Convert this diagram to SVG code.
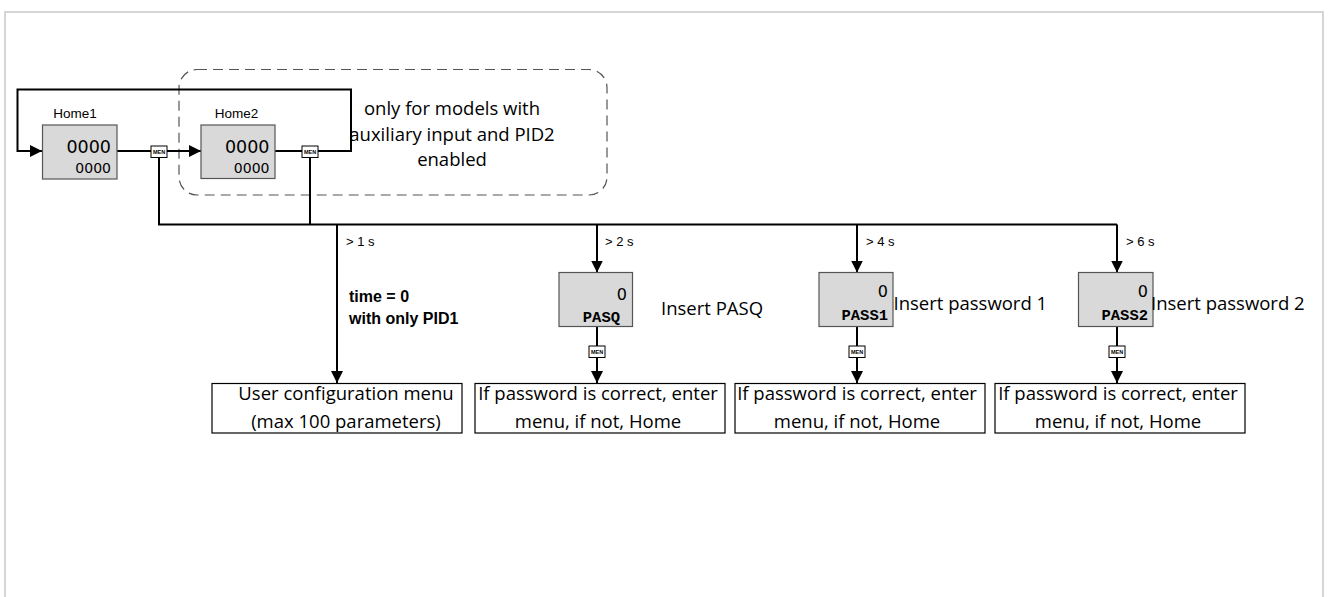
<svg xmlns="http://www.w3.org/2000/svg" width="1328" height="597" viewBox="0 0 1328 597">
<style>
.ln{fill:none;stroke:#000;stroke-width:2}
.disp{fill:#d9d9d9;stroke:#555;stroke-width:1.2}
.box{fill:#fff;stroke:#000;stroke-width:1.2}
.men{fill:#fff;stroke:#000;stroke-width:1}
.mt{font-family:"Liberation Sans",Arial,sans-serif;font-weight:bold;font-size:5.5px;text-anchor:middle;fill:#000}
.dig{font-family:"DejaVu Sans",Verdana,sans-serif;text-anchor:end;fill:#000}
.mono{font-family:"Liberation Mono","Courier New",monospace;font-weight:bold;font-size:15.5px;text-anchor:end;fill:#000}
.lbl{font-family:"Liberation Sans",Arial,sans-serif;font-size:13px;fill:#000}
.txt{font-family:"Open Sans","Noto Sans",sans-serif;font-size:18.5px;fill:#000}
.c{text-anchor:middle}
.b{font-family:"Liberation Sans",Arial,sans-serif;font-weight:bold;font-size:16px;fill:#000}
</style>
<defs>
<marker id="ah" markerUnits="userSpaceOnUse" markerWidth="12" markerHeight="12" viewBox="0 0 12 12" refX="12" refY="6" orient="auto">
<path d="M0,0 L12,6 L0,12 Z" fill="#000"/>
</marker>
</defs>
<rect x="5" y="12" width="1318" height="600" fill="none" stroke="#d6d6d6" stroke-width="2"/>
<g id="optional-area">
<rect x="179" y="69.5" width="428" height="125.5" rx="18" ry="18" fill="none" stroke="#555" stroke-width="1.2" stroke-dasharray="10,6"/>
<text class="txt c" x="452" y="114.5">only for models with</text>
<text class="txt c" x="452" y="140.5">auxiliary input and PID2</text>
<text class="txt c" x="452" y="165.5">enabled</text>
</g>
<g id="connectors">
<path class="ln" d="M318,151 H351 V89.5 H17.5 V151 H42" marker-end="url(#ah)"/>
<path class="ln" d="M117,151 H151"/>
<path class="ln" d="M167,151 H201" marker-end="url(#ah)"/>
<path class="ln" d="M275,151 H302"/>
<path class="ln" d="M159,157 V224.5 H1117"/>
<path class="ln" d="M310,157 V224.5"/>
<path class="ln" d="M337,224.5 V383" marker-end="url(#ah)"/>
<path class="ln" d="M597,224.5 V272.5" marker-end="url(#ah)"/>
<path class="ln" d="M857,224.5 V272.5" marker-end="url(#ah)"/>
<path class="ln" d="M1117,224.5 V272.5" marker-end="url(#ah)"/>
<path class="ln" d="M597,326.5 V383" marker-end="url(#ah)"/>
<path class="ln" d="M857,326.5 V383" marker-end="url(#ah)"/>
<path class="ln" d="M1117,326.5 V383" marker-end="url(#ah)"/>
<g id="men-keys">
<rect class="men" x="151" y="146" width="16" height="11.5"/><text class="mt" x="159" y="154">MEN</text>
<rect class="men" x="302" y="146" width="16" height="11.5"/><text class="mt" x="310" y="154">MEN</text>
<rect class="men" x="589" y="346" width="16" height="11.5"/><text class="mt" x="597" y="354">MEN</text>
<rect class="men" x="849" y="346" width="16" height="11.5"/><text class="mt" x="857" y="354">MEN</text>
<rect class="men" x="1109" y="346" width="16" height="11.5"/><text class="mt" x="1117" y="354">MEN</text>
</g>
<text class="lbl" x="346" y="245.5">&gt; 1 s</text>
<text class="lbl" x="605" y="245.5">&gt; 2 s</text>
<text class="lbl" x="866" y="245.5">&gt; 4 s</text>
<text class="lbl" x="1126" y="245.5">&gt; 6 s</text>
<text class="b" x="349" y="301.5">time = 0</text>
<text class="b" x="349" y="324">with only PID1</text>
</g>
<g id="home1">
<text class="lbl c" x="75" y="117.5" style="font-size:13.5px">Home1</text>
<rect class="disp" x="42.5" y="125" width="74.5" height="54"/>
<text class="dig" x="111" y="152.5" style="font-size:17.5px">0000</text>
<text class="dig" x="111" y="172.5" style="font-size:14px">0000</text>
</g>
<g id="home2">
<text class="lbl c" x="236.5" y="117.5" style="font-size:13.5px">Home2</text>
<rect class="disp" x="201" y="125" width="74" height="53.5"/>
<text class="dig" x="269.5" y="152.5" style="font-size:17.5px">0000</text>
<text class="dig" x="269.5" y="172.5" style="font-size:14px">0000</text>
</g>
<g id="pasq">
<rect class="disp" x="559" y="272.5" width="73.5" height="54"/>
<text class="dig" x="627" y="300" style="font-size:16px">0</text>
<text class="mono" x="620" y="321.5">PASQ</text>
<text class="txt" x="661" y="314.5">Insert PASQ</text>
</g>
<g id="pass1">
<rect class="disp" x="819" y="272.5" width="74" height="54"/>
<text class="dig" x="888" y="297" style="font-size:16px">0</text>
<text class="mono" x="888" y="319.5">PASS1</text>
<text class="txt" x="893.5" y="310">Insert password 1</text>
</g>
<g id="pass2">
<rect class="disp" x="1078.5" y="272.5" width="74.5" height="54"/>
<text class="dig" x="1148" y="297" style="font-size:16px">0</text>
<text class="mono" x="1148" y="319.5">PASS2</text>
<text class="txt" x="1151" y="310">Insert password 2</text>
</g>
<g id="user-menu">
<rect class="box" x="212" y="383.5" width="250" height="49.5"/>
<text class="txt c" x="346" y="399.5">User configuration menu</text>
<text class="txt c" x="346" y="427.5">(max 100 parameters)</text>
</g>
<g id="result-pasq">
<rect class="box" x="475" y="383.5" width="250" height="49.5"/>
<text class="txt c" x="598" y="399.5">If password is correct, enter</text>
<text class="txt c" x="598" y="427.5">menu, if not, Home</text>
</g>
<g id="result-pass1">
<rect class="box" x="735" y="383.5" width="250" height="49.5"/>
<text class="txt c" x="857" y="399.5">If password is correct, enter</text>
<text class="txt c" x="857" y="427.5">menu, if not, Home</text>
</g>
<g id="result-pass2">
<rect class="box" x="995" y="383.5" width="250" height="49.5"/>
<text class="txt c" x="1118" y="399.5">If password is correct, enter</text>
<text class="txt c" x="1118" y="427.5">menu, if not, Home</text>
</g>
</svg>
